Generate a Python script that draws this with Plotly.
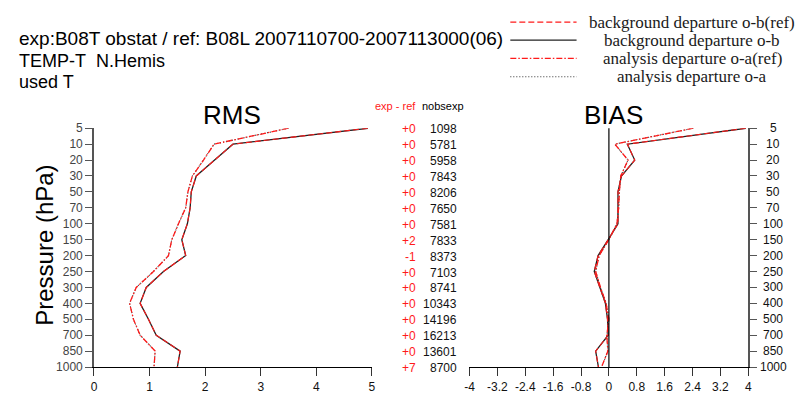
import plotly.graph_objects as go

# ---------------- data ----------------
levels = ["5", "10", "20", "30", "50", "70", "100", "150", "200", "250",
          "300", "400", "500", "700", "850", "1000"]

rms_ob = [4.93, 2.50, 2.17, 1.84, 1.75, 1.73, 1.68, 1.58, 1.65, 1.25,
          0.94, 0.83, 0.98, 1.12, 1.55, 1.50]
rms_ob_ref = list(rms_ob)
rms_oa_ref = [3.50, 2.16, 1.97, 1.77, 1.69, 1.65, 1.52, 1.40, 1.34, 1.07,
              0.76, 0.64, 0.71, 0.83, 1.10, 1.08]
rms_oa = list(rms_oa_ref)

bias_ob = [3.93, 0.53, 0.74, 0.36, 0.26, 0.26, 0.26, -0.02, -0.31, -0.42,
           -0.26, -0.10, -0.04, -0.02, -0.38, -0.30]
bias_ob_ref = list(bias_ob)
bias_oa_ref = [2.42, 0.17, 0.55, 0.34, 0.30, 0.28, 0.23, 0.00, -0.28, -0.38,
               -0.24, -0.08, 0.00, -0.06, -0.03, -0.21]
bias_oa = list(bias_oa_ref)

exp_minus_ref = ["+0", "+0", "+0", "+0", "+0", "+0", "+0", "+2", "-1", "+0",
                 "+0", "+0", "+0", "+0", "+0", "+7"]
nobsexp = [1098, 5781, 5958, 7843, 8206, 7650, 7581, 7833, 8373, 7103,
           8741, 10343, 14196, 16213, 13601, 8700]

rms_ticks = [0, 1, 2, 3, 4, 5]
bias_ticks = [-4, -3.2, -2.4, -1.6, -0.8, 0, 0.8, 1.6, 2.4, 3.2, 4]
bias_ticktext = ["-4", "-3.2", "-2.4", "-1.6", "-0.8", "0", "0.8", "1.6", "2.4", "3.2", "4"]

legend_labels = ["background departure o-b(ref)", "background departure o-b",
                 "analysis departure o-a(ref)", "analysis departure o-a"]
header_lines = ["exp:B08T obstat / ref: B08L 2007110700-2007113000(06)",
                "TEMP-T\u00a0\u00a0N.Hemis",
                "used T"]

# ---------------- layout helpers ----------------
W, H = 809, 394
def px(x):
    return x / W
def py(y):
    return 1 - y / H

SANS = "Liberation Sans, Arial, sans-serif"
SERIF = "Liberation Serif, Times New Roman, serif"
RED = "#ff1a1a"
DARK = "#222222"

styles = [
    dict(color=DARK, dash="solid", width=1.3),          # o-b
    dict(color=RED, dash="6px,3px", width=1.1),         # o-b(ref)
    dict(color="#333333", dash="1px,2px", width=1.1),   # o-a
    dict(color=RED, dash="6px,2px,1.5px,2px", width=1.3),  # o-a(ref)
]

fig = go.Figure()
for series, st in zip([rms_ob, rms_ob_ref, rms_oa, rms_oa_ref], styles):
    fig.add_trace(go.Scatter(x=series, y=levels, mode="lines", line=st,
                             xaxis="x", yaxis="y", showlegend=False, hoverinfo="skip"))
for series, st in zip([bias_ob, bias_ob_ref, bias_oa, bias_oa_ref], styles):
    fig.add_trace(go.Scatter(x=series, y=levels, mode="lines", line=st,
                             xaxis="x2", yaxis="y2", showlegend=False, hoverinfo="skip"))

ydom = [py(373.3), py(125.7)]
tickfont = dict(family=SANS, size=12, color="#111111")

fig.update_layout(
    width=W, height=H,
    margin=dict(l=0, r=0, t=0, b=0),
    paper_bgcolor="white", plot_bgcolor="white",
    font=dict(family=SANS, color="black"),
    xaxis=dict(domain=[px(90), px(371)], range=[0, 5], tickvals=rms_ticks,
               ticks="outside", ticklen=8, tickwidth=1.3, tickcolor="#333",
               showline=True, linecolor="black", linewidth=1.3,
               showgrid=False, zeroline=False, anchor="y", tickfont=tickfont),
    yaxis=dict(domain=ydom, type="category", categoryorder="array",
               categoryarray=levels, range=[15, 0],
               ticks="outside", ticklen=7, tickwidth=1.3, tickcolor="#555",
               showline=True, linecolor="#555", linewidth=1.6,
               showgrid=False, zeroline=False, anchor="x",
               tickfont=dict(family=SANS, size=12, color="#444444")),
    xaxis2=dict(domain=[px(469.7), px(751.7)], range=[-4, 4], tickvals=bias_ticks,
                ticktext=bias_ticktext,
                ticks="outside", ticklen=8, tickwidth=1.3, tickcolor="#333",
                showline=True, linecolor="black", linewidth=1.3,
                showgrid=False, zeroline=False, anchor="y2", tickfont=tickfont),
    yaxis2=dict(domain=ydom, type="category", categoryorder="array",
                categoryarray=levels, range=[15, 0], side="right",
                ticks="outside", ticklen=7, tickwidth=1.3, tickcolor="#555",
                showline=True, linecolor="#555", linewidth=1.6, showticklabels=False,
                showgrid=False, zeroline=False, anchor="x2"),
)

# zero line in BIAS panel
fig.add_shape(type="line", xref="x2", yref="y2 domain", x0=0, x1=0, y0=0, y1=1,
              line=dict(color="black", width=1.2))

ann = []
# header
header_sizes = [19, 18, 18]
for i, (t, fs) in enumerate(zip(header_lines, header_sizes)):
    ann.append(dict(text=t, x=px(12), y=py(33 + i * 22.5), xref="paper", yref="paper",
                    xanchor="left", yanchor="middle", showarrow=False,
                    font=dict(family=SANS, size=fs, color="black")))
# legend
leg_y = [15.7, 34.3, 53.3, 72.3]
leg_styles = [styles[1], styles[0], styles[3], styles[2]]
for yy, lab, st in zip(leg_y, legend_labels, leg_styles):
    fig.add_shape(type="line", xref="paper", yref="paper", x0=px(511), x1=px(578),
                  y0=py(yy), y1=py(yy), line=dict(color=st["color"], dash=st["dash"], width=1.2))
    ann.append(dict(text=lab, x=px(695), y=py(yy), xref="paper", yref="paper",
                    xanchor="center", yanchor="middle", showarrow=False,
                    font=dict(family=SERIF, size=17, color="#1a1a1a")))
# right-hand pressure labels (centred, as in the reference)
for i, lev in enumerate(levels):
    ann.append(dict(text=lev, x=px(777), y=i, xref="paper", yref="y2",
                    xanchor="center", yanchor="middle", showarrow=False,
                    font=tickfont))
# panel titles
ann.append(dict(text="RMS", x=px(230), y=py(111.5), xref="paper", yref="paper",
                xanchor="center", yanchor="middle", showarrow=False,
                font=dict(family=SANS, size=26, color="black")))
ann.append(dict(text="BIAS", x=px(615.5), y=py(111.5), xref="paper", yref="paper",
                xanchor="center", yanchor="middle", showarrow=False,
                font=dict(family=SANS, size=26, color="black")))
# y title
ann.append(dict(text="Pressure (hPa)", x=px(40), y=py(247), xref="paper", yref="paper",
                xanchor="center", yanchor="middle", showarrow=False, textangle=-90,
                font=dict(family=SANS, size=24, color="black")))
# middle columns
ann.append(dict(text="exp - ref", x=px(395), y=py(103), xref="paper", yref="paper",
                xanchor="center", yanchor="middle", showarrow=False,
                font=dict(family=SANS, size=11, color=RED)))
ann.append(dict(text="nobsexp", x=px(443), y=py(103), xref="paper", yref="paper",
                xanchor="center", yanchor="middle", showarrow=False,
                font=dict(family=SANS, size=11, color="black")))
for i, (d, n) in enumerate(zip(exp_minus_ref, nobsexp)):
    ann.append(dict(text=d, x=px(418), y=i, xref="paper", yref="y",
                    xanchor="right", yanchor="middle", showarrow=False, yshift=-1,
                    font=dict(family=SANS, size=12, color=RED)))
    ann.append(dict(text=str(n), x=px(459), y=i, xref="paper", yref="y",
                    xanchor="right", yanchor="middle", showarrow=False, yshift=-1,
                    font=dict(family=SANS, size=12, color="#111111")))

fig.update_layout(annotations=ann)
fig.write_html("out.html")
